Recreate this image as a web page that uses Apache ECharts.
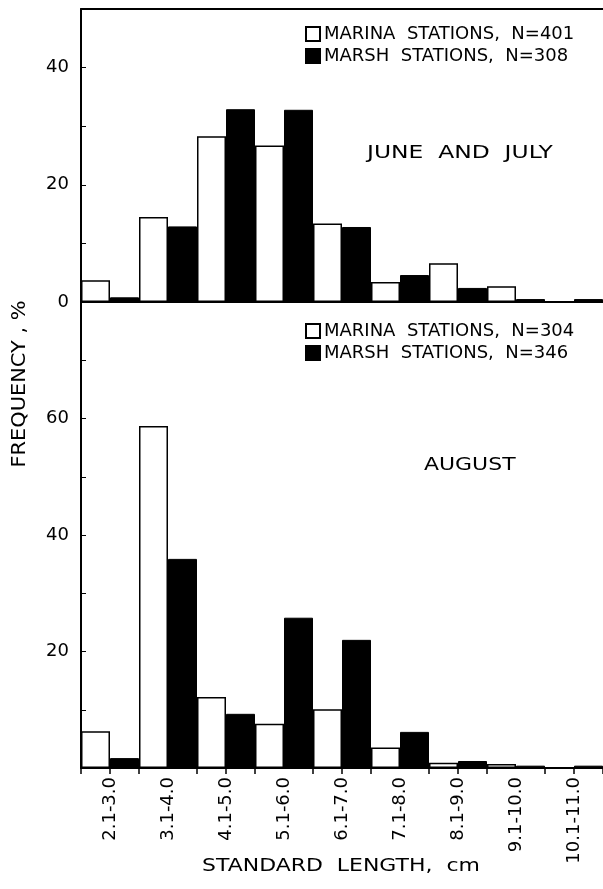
<!DOCTYPE html>
<html><head><meta charset="utf-8">
<script src="https://cdn.jsdelivr.net/npm/echarts@6/dist/echarts.min.js"></script>
<style>html,body{margin:0;padding:0;background:#fff;overflow:hidden}#c{width:603px;height:889px}</style>
</head><body><div id="c"></div>
<script>
const categories = ['2.1-3.0','3.1-4.0','4.1-5.0','5.1-6.0','6.1-7.0','7.1-8.0','8.1-9.0','9.1-10.0','10.1-11.0'];
const juneMarina = [3.7, 14.5, 28.3, 26.7, 13.4, 3.4, 6.6, 2.7, 0];
const juneMarsh  = [0.8, 12.9, 32.9, 32.8, 12.8, 4.6, 2.4, 0.5, 0.5];
const augMarina  = [6.3, 58.7, 12.2, 7.6, 10.1, 3.5, 0.9, 0.7, 0];
const augMarsh   = [1.7, 35.9, 9.3, 25.8, 22.0, 6.2, 1.2, 0.4, 0.4];
const topTicks = [0, 20, 40];
const bottomTicks = [20, 40, 60];

const FONT = 'DejaVu Sans';
const chart = echarts.init(document.getElementById('c'), null, {renderer: 'canvas'});
const whiteStyle = {color: '#fff', borderColor: '#000', borderWidth: 1.5};
const blackStyle = {color: '#000', borderColor: '#000', borderWidth: 1};
const yLabel = (ticks) => ({
  fontFamily: FONT, fontSize: 18, color: '#000', margin: 12,
  formatter: v => ticks.includes(v) ? String(v) : ''
});
const legendText = {fontFamily: FONT, fontSize: 18, color: '#000', padding: [0, 0, 0, -1]};
chart.setOption({
  animation: false,
  textStyle: {fontFamily: FONT},
  grid: [
    {left: 81, top: 9, right: -6, height: 293},
    {left: 81, top: 302, right: -6, height: 466}
  ],
  legend: [
    {data: ['MARINA  STATIONS,  N=401', 'MARSH  STATIONS,  N=308'], orient: 'vertical', left: 300, top: 20,
     itemWidth: 14, itemHeight: 14, itemGap: 4, icon: 'rect', textStyle: legendText},
    {data: ['MARINA  STATIONS,  N=304', 'MARSH  STATIONS,  N=346'], orient: 'vertical', left: 300, top: 317,
     itemWidth: 14, itemHeight: 14, itemGap: 4, icon: 'rect', textStyle: legendText}
  ],
  xAxis: [
    {type: 'category', gridIndex: 0, data: categories, boundaryGap: true,
     axisLine: {lineStyle: {color: '#000', width: 2}}, axisTick: {show: false}, axisLabel: {show: false}},
    {type: 'category', gridIndex: 0, data: categories, boundaryGap: true, position: 'top',
     axisLine: {lineStyle: {color: '#000', width: 2}}, axisTick: {show: false}, axisLabel: {show: false}},
    {type: 'category', gridIndex: 1, data: categories, boundaryGap: true,
     axisLine: {lineStyle: {color: '#000', width: 2}},
     axisTick: {show: true, length: 6, lineStyle: {color: '#000', width: 1.5}},
     axisLabel: {rotate: 90, fontFamily: FONT, fontSize: 18, color: '#000', margin: 9, interval: 0}},
    {type: 'category', gridIndex: 1, data: categories, boundaryGap: true, position: 'bottom',
     axisLine: {show: false},
     axisTick: {show: true, alignWithLabel: true, length: 6, lineStyle: {color: '#000', width: 1.5}},
     axisLabel: {show: false}}
  ],
  yAxis: [
    {type: 'value', gridIndex: 0, min: 0, max: 50, interval: 10,
     axisLine: {show: true, lineStyle: {color: '#000', width: 2}},
     axisTick: {show: true, inside: true, length: 5, lineStyle: {color: '#000'}},
     splitLine: {show: false}, axisLabel: yLabel(topTicks)},
    {type: 'value', gridIndex: 1, min: 0, max: 80, interval: 10,
     axisLine: {show: true, lineStyle: {color: '#000', width: 2}},
     axisTick: {show: true, inside: true, length: 5, lineStyle: {color: '#000'}},
     splitLine: {show: false}, axisLabel: yLabel(bottomTicks)}
  ],
  series: [
    {name: 'MARINA  STATIONS,  N=401', type: 'bar', xAxisIndex: 0, yAxisIndex: 0, data: juneMarina,
     barGap: '0%', barCategoryGap: '0%', itemStyle: whiteStyle},
    {name: 'MARSH  STATIONS,  N=308', type: 'bar', xAxisIndex: 0, yAxisIndex: 0, data: juneMarsh,
     barGap: '0%', barCategoryGap: '0%', itemStyle: blackStyle},
    {name: 'MARINA  STATIONS,  N=304', type: 'bar', xAxisIndex: 2, yAxisIndex: 1, data: augMarina,
     barGap: '0%', barCategoryGap: '0%', itemStyle: whiteStyle},
    {name: 'MARSH  STATIONS,  N=346', type: 'bar', xAxisIndex: 2, yAxisIndex: 1, data: augMarsh,
     barGap: '0%', barCategoryGap: '0%', itemStyle: blackStyle}
  ],
  graphic: [
    {type: 'text', x: 367, y: 153, scaleX: 1.3,
     style: {text: 'JUNE  AND  JULY', font: '18px "DejaVu Sans"', fill: '#000', align: 'left', verticalAlign: 'middle'}},
    {type: 'text', x: 424, y: 465, scaleX: 1.22,
     style: {text: 'AUGUST', font: '18px "DejaVu Sans"', fill: '#000', align: 'left', verticalAlign: 'middle'}},
    {type: 'text', x: 20, y: 384, rotation: Math.PI / 2, scaleX: 1.1,
     style: {text: 'FREQUENCY , %', font: '19px "DejaVu Sans"', fill: '#000', align: 'center', verticalAlign: 'middle'}},
    {type: 'text', x: 341, y: 866, scaleX: 1.22,
     style: {text: 'STANDARD  LENGTH,  cm', font: '18px "DejaVu Sans"', fill: '#000', align: 'center', verticalAlign: 'middle'}}
  ]
});
</script></body></html>
